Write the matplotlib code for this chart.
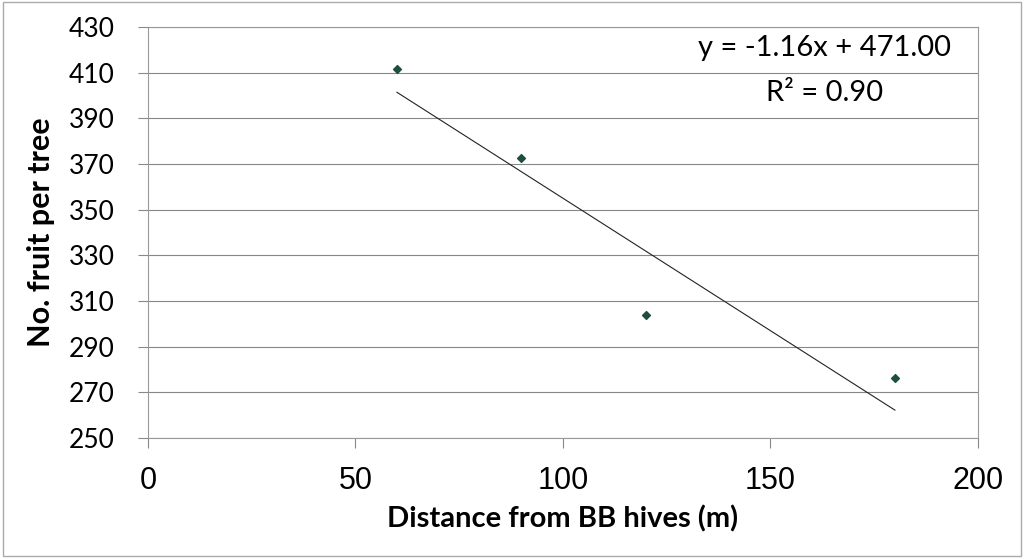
import matplotlib.pyplot as plt
import numpy as np

# distance from hives vs fruit count
distance = [60, 90, 120, 180]
fruit = [411.6, 372.6, 303.8, 276.2]

x_ticks = [0, 50, 100, 150, 200]
y_ticks = [250, 270, 290, 310, 330, 350, 370, 390, 410, 430]

plt.rcParams["font.family"] = ["Lato", "DejaVu Sans"]

fig = plt.figure(figsize=(10.24, 5.59), dpi=100)
ax = fig.add_axes([0.1445, 0.2165, 0.8105, 0.7352])

# linear trendline
slope, intercept = -1.16, 471.00
xs = np.array([min(distance), max(distance)])
ax.plot(xs, slope * xs + intercept, color="#222222", lw=0.8)

ax.scatter(distance, fruit, marker="D", s=16, color="#1f4e3d", zorder=3)

ax.set_xlim(0, 200)
ax.set_ylim(250, 430)
ax.set_xticks(x_ticks)
ax.set_yticks(y_ticks)
ax.tick_params(axis="y", labelsize=19, length=7, color="#888888", width=0.8, pad=17)
ax.tick_params(axis="x", labelsize=22, length=7, color="#888888", width=0.8, pad=13)
for lbl in ax.get_xticklabels():
    lbl.set_family("Liberation Sans")
ax.grid(axis="y", color="#888888", lw=0.8)
ax.set_axisbelow(True)
for side in ["left", "bottom", "right", "top"]:
    ax.spines[side].set_color("#999999")
    ax.spines[side].set_linewidth(0.8)

ax.set_xlabel("Distance from BB hives (m)", fontsize=21, fontweight="bold", labelpad=7)
ax.set_ylabel("No. fruit per tree", fontsize=22, fontweight="bold", labelpad=10)

ax.text(163, 420.8, "y = -1.16x + 471.00", fontsize=21, ha="center", va="center")
ax.text(163, 401.0, "R² = 0.90", fontsize=21, ha="center", va="center")

# thin frame around the whole figure
fig.patches.append(plt.Rectangle((0.003, 0.005), 0.994, 0.991, transform=fig.transFigure,
                                 fill=False, edgecolor="#aaaaaa", lw=1))

fig.savefig("out.png", dpi=100)
